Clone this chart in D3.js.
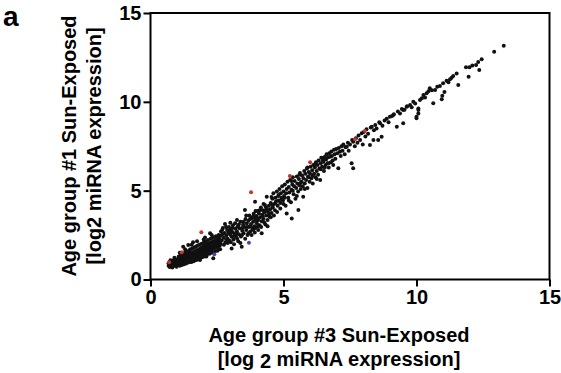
<!DOCTYPE html>
<html>
<head>
<meta charset="utf-8">
<script src="https://cdn.jsdelivr.net/npm/d3@7"></script>
<style>
  body { margin: 0; background: #fff; }
  svg { display: block; }
  text { font-family: "Liberation Sans", Arial, sans-serif; font-weight: bold; fill: #000; }
</style>
</head>
<body>
<svg id="Chart"></svg>
<script>
// tick values on both axes
const tickValues = [0, 5, 10, 15];

// [age group #3, age group #1] log2 expression
const blobPts = [
  [0.68,0.78],[0.68,0.92],[0.72,0.71],[0.72,0.85],[0.72,1.0],[0.76,0.8],[0.76,0.94],
  [0.8,0.74],[0.8,0.88],[0.8,1.05],[0.84,0.82],[0.84,0.97],[0.88,0.77],[0.88,0.91],[0.88,1.1],
  [0.92,0.86],[0.92,1.02],[0.92,0.95],[0.96,0.8],[0.96,0.93],[0.96,1.12],[1.0,0.88],[1.0,1.04],
  [1.0,0.97],[1.04,0.84],[1.04,0.99],[1.04,1.16],[1.08,0.92],[1.08,1.08],[1.08,1.0],[1.1,1.5],
  [1.12,0.89],[1.12,1.03],[1.12,1.2],[1.16,0.96],[1.16,1.13],[1.16,1.06],[1.2,0.93],[1.2,1.09],
  [1.2,1.26],[1.23,1.85],[1.24,1.01],[1.24,1.17],[1.24,1.1],[1.28,0.98],[1.28,1.14],[1.28,1.32],
  [1.32,1.06],[1.32,1.22],[1.32,1.15],[1.36,1.03],[1.36,1.19],[1.36,1.38],[1.36,1.27],
  [1.4,1.11],[1.4,1.28],[1.4,1.2],[1.42,1.94],[1.44,1.08],[1.44,1.24],[1.44,1.43],[1.44,1.33],
  [1.48,1.16],[1.48,1.33],[1.48,1.25],[1.5,1.0],[1.52,1.13],[1.52,1.3],[1.52,1.49],[1.52,1.4],
  [1.56,1.21],[1.56,1.38],[1.56,1.3],[1.6,1.18],[1.6,1.35],[1.6,1.55],[1.6,1.46],[1.6,2.1],
  [1.64,1.27],[1.64,1.44],[1.64,1.36],[1.68,1.24],[1.68,1.41],[1.68,1.6],[1.68,1.52],
  [1.72,1.33],[1.72,1.5],[1.72,1.42],[1.76,1.3],[1.76,1.47],[1.76,1.66],[1.76,1.58],
  [1.8,1.39],[1.8,1.56],[1.8,1.48],[1.84,1.36],[1.84,1.53],[1.84,1.72],[1.84,1.64],[1.86,1.1],
  [1.88,1.45],[1.88,1.62],[1.88,1.55],[1.92,1.42],[1.92,1.6],[1.92,1.79],[1.92,1.7],
  [1.96,1.51],[1.96,1.69],[1.96,1.61],[2.0,1.48],[2.0,1.66],[2.0,1.86],[2.0,1.77],
  [2.05,1.57],[2.05,1.75],[2.05,1.68],[2.05,1.95],[2.05,2.37],[2.1,1.55],[2.1,1.73],[2.1,1.9],
  [2.1,1.82],[2.1,1.3],[2.15,1.64],[2.15,1.82],[2.15,1.75],[2.15,2.02],[2.2,1.62],[2.2,1.8],
  [2.2,1.98],[2.2,1.9],[2.24,2.6],[2.25,1.71],[2.25,1.89],[2.25,2.08],[2.25,1.83],[2.3,1.69],
  [2.3,1.87],[2.3,2.05],[2.3,1.97],[2.35,1.78],[2.35,1.96],[2.35,2.16],[2.35,1.88],[2.36,1.19],
  [2.4,1.76],[2.4,1.95],[2.4,2.12],[2.4,2.04],[2.45,1.86],[2.45,2.03],[2.45,2.22],
  [2.5,1.83],[2.5,2.01],[2.5,2.2],[2.5,2.11],[2.55,1.93],[2.55,2.1],[2.55,2.3],
  [2.6,1.9],[2.6,2.08],[2.6,2.27],[2.6,2.18],
  [0.75,1.08],[0.82,0.68],[0.9,1.22],[0.98,0.72],[1.06,1.3],[1.1,0.78],[1.14,1.38],[1.18,0.82],
  [1.22,1.45],[1.26,0.86],[1.3,1.52],[1.34,0.9],[1.38,1.58],[1.42,0.95],[1.46,1.64],[1.5,1.7],
  [1.54,0.99],[1.58,1.76],[1.62,1.03],[1.66,1.82],[1.7,1.08],[1.74,1.88],[1.78,1.12],[1.82,1.94],
  [1.86,1.2],[1.9,2.0],[1.94,1.25],[1.98,2.06],[2.02,1.3],[2.06,2.14],[2.12,1.4],[2.16,2.22],
  [2.22,1.45],[2.26,2.3],[2.32,1.5],[2.36,2.38],[2.42,1.58],[2.46,2.44],[2.52,1.62],[2.56,2.5],
  [2.62,1.7],[1.3,1.7],[1.55,1.95],[1.75,2.15],[2.0,2.25],[2.3,2.5],[1.15,0.95],[1.35,1.1],
  [1.65,1.3],[1.95,1.55],[2.25,1.6],[2.55,1.75]
];

const lowerPts = [
  [2.62,2.45],[2.65,2.7],[2.68,2.2],[2.7,2.55],[2.72,2.9],[2.75,2.35],[2.78,2.62],[2.8,3.12],
  [2.82,2.1],[2.85,2.48],[2.88,2.78],[2.9,2.3],[2.92,2.62],[2.95,2.95],[2.97,2.18],[3.0,2.52],
  [3.02,2.82],[3.05,1.75],[3.05,2.4],[3.08,2.68],[3.1,3.05],[3.12,2.25],[3.15,2.58],[3.18,3.16],
  [3.2,2.85],[3.22,2.4],[3.25,2.7],[3.28,3.0],[3.3,2.15],[3.32,2.55],[3.35,2.88],[3.38,3.25],
  [3.4,2.42],[3.43,1.85],[3.45,2.75],[3.48,3.08],[3.5,2.6],[3.52,2.95],[3.55,3.91],[3.57,3.4],
  [3.6,2.78],[3.62,3.15],[3.65,2.5],[3.68,3.3],[3.7,2.95],[3.72,3.6],[3.75,2.7],[3.78,3.12],
  [3.8,3.45],[3.83,2.85],[3.86,2.79],[3.86,3.25],[3.88,3.7],[3.9,3.0],[3.93,4.38],[3.93,3.4],
  [3.95,2.9],[3.98,3.58],[4.0,3.15],[4.02,3.85],[4.05,2.79],[4.05,3.35],[4.08,3.72],[4.1,3.05],
  [4.12,3.5],[4.15,4.05],[4.18,2.6],[4.18,3.28],[4.2,3.65],[4.22,3.9],[4.25,3.4],[4.28,3.78],
  [4.3,4.2],[4.32,3.1],[4.35,3.6],[4.37,4.66],[4.38,3.95],[4.4,3.35],[4.42,3.8],[4.45,4.15],
  [4.47,3.55],[4.5,3.95],
  [2.64,2.0],[2.7,2.8],[2.76,1.95],[2.84,2.95],[2.9,2.05],[2.96,2.7],[3.02,2.1],[3.08,2.9],
  [3.14,1.98],[3.2,2.6],[3.26,2.3],[3.32,3.1],[3.38,2.05],[3.44,2.5],[3.5,3.25],[3.56,2.3],
  [3.62,2.95],[3.68,2.6],[3.74,3.4],[3.8,2.5],[3.86,3.55],[3.92,2.65],[3.98,3.3],[4.04,3.0],
  [4.1,3.9],[4.16,2.95],[4.22,3.55],[4.28,3.2],[4.34,4.05],[4.4,3.0],[4.46,3.7],[3.0,3.2],
  [3.25,3.35],[3.6,3.6],[3.95,3.85],[4.25,4.25],[2.85,2.25],[3.15,2.45],[3.45,2.9],[3.75,3.0],
  [4.0,3.45],[4.3,3.85]
];

const midPts = [
  [4.52,4.3],[4.55,3.75],[4.58,4.55],[4.6,4.05],[4.62,4.85],[4.65,4.25],[4.68,3.9],[4.7,4.6],
  [4.72,4.4],[4.75,4.95],[4.78,4.15],[4.8,4.7],[4.82,4.45],[4.85,5.1],[4.88,4.3],[4.9,4.85],
  [4.92,4.6],[4.95,5.25],[4.98,4.45],[5.0,4.95],[5.02,4.7],[5.05,5.35],[5.08,4.15],[5.1,4.85],
  [5.12,3.72],[5.12,5.1],[5.15,5.5],[5.18,4.6],[5.2,5.2],[5.22,4.9],[5.25,5.6],[5.28,4.35],
  [5.3,5.05],[5.31,3.44],[5.33,5.35],[5.35,5.75],[5.38,4.8],[5.4,5.25],[5.42,5.55],[5.45,4.55],
  [5.48,5.15],[5.5,5.8],[5.52,5.4],[5.55,4.95],[5.56,3.91],[5.58,5.65],[5.6,5.3],[5.62,6.0],
  [5.65,5.1],[5.68,5.5],[5.7,5.85],[5.72,5.25],[5.74,4.66],[5.75,5.7],[5.78,6.1],[5.8,5.4],
  [5.82,5.95],[5.85,5.6],[5.88,6.25],[5.9,5.15],[5.92,5.8],[5.95,6.05],[5.98,5.5],[6.0,5.95],
  [6.02,6.35],[6.05,5.7],[6.08,6.15],[6.1,5.4],[6.12,6.45],[6.15,5.95],[6.18,6.3],[6.2,5.75],
  [6.22,6.6],[6.25,6.1],[6.28,6.45],[6.3,5.9],[6.32,6.7],[6.35,6.25],[6.38,5.6],[6.4,6.55],
  [6.42,6.85],[6.45,6.35],[6.48,6.7],[6.5,6.63],[6.52,6.1],[6.55,6.9],[6.58,6.45],[6.6,6.75],
  [6.62,7.05],[6.65,6.55],[6.68,6.88],[6.7,6.3],[6.72,7.1],[6.75,6.91],[6.78,6.6],[6.8,7.2],
  [6.82,6.95],[6.85,6.7],[6.87,6.44],[6.9,7.3],[6.92,7.05],[6.95,6.8],[6.98,7.35],
  [4.52,3.5],[4.58,4.2],[4.64,3.6],[4.7,4.3],[4.76,3.8],[4.82,4.75],[4.88,4.0],[4.94,4.5],
  [5.0,4.25],[4.55,4.65],[5.05,4.6],[5.2,4.45],[5.35,5.0],[5.5,4.7],[5.65,5.45],[5.8,5.1],
  [5.95,5.75],[6.1,5.85],[6.25,5.65],[6.4,6.2],[6.55,6.3],[6.7,6.55],[5.3,5.55],[5.6,5.9],
  [5.9,6.3],[6.2,6.5],[6.5,6.85]
];

const upperPts = [
  [7.02,7.1],[7.06,6.26],[7.08,7.4],[7.12,7.19],[7.15,6.95],[7.18,7.5],[7.22,7.25],[7.25,7.6],
  [7.3,7.05],[7.33,7.45],[7.38,7.47],[7.42,7.7],[7.45,7.25],[7.5,7.6],[7.56,6.54],[7.58,7.85],
  [7.62,7.75],[7.62,6.26],[7.68,7.5],[7.72,7.95],[7.78,7.7],[7.82,8.1],[7.88,7.85],[7.94,8.23],
  [7.98,7.6],[8.02,8.3],[8.08,8.05],[8.12,8.45],[8.18,8.2],[8.25,7.57],[8.28,8.55],[8.32,8.6],
  [8.38,7.85],[8.4,8.4],[8.45,8.7],[8.5,8.5],[8.56,7.85],[8.6,8.85],[8.63,8.79],[8.69,8.04],
  [8.72,8.65],[8.8,8.95],[8.88,9.05],[8.95,8.85],[9.0,9.16],[9.08,9.2],[9.13,9.26],[9.15,9.3],
  [9.26,8.6],[9.3,9.45],[9.38,9.35],[9.45,9.6],[9.5,8.79],[9.5,9.54],[9.55,9.55],[9.63,9.72],
  [9.65,9.75],[9.76,9.82],[9.82,9.7],[9.88,10.0],[9.95,9.9]
];

const topPts = [
  [10.0,9.07],[10.0,9.16],[10.07,9.54],[10.07,9.35],[10.07,9.63],[10.13,10.1],[10.2,10.2],
  [10.26,10.38],[10.32,10.25],[10.38,10.48],[10.45,10.6],[10.5,10.76],[10.58,10.65],
  [10.63,9.92],[10.7,10.66],[10.78,10.85],[10.88,10.89],[10.95,10.14],[10.97,10.34],
  [11.0,11.04],[11.05,10.55],[11.13,11.19],[11.2,11.1],[11.26,11.27],[11.32,11.35],
  [11.38,11.45],[11.51,11.6],[11.57,10.95],[11.86,11.94],[11.96,11.41],[11.99,11.94],
  [12.1,12.05],[12.24,12.07],[12.32,12.24],[12.36,11.79],[12.45,12.39],[12.92,12.82],
  [13.28,13.15]
];

const redPts = [
  [0.7,0.97],[1.17,1.53],[1.91,2.66],[3.78,4.91],[5.24,5.82],[6.0,6.6],[7.69,7.9],[8.06,8.36]
];

const purplePts = [[2.4,1.42],[3.7,2.07]];

const blackPts = blobPts.concat(lowerPts, midPts, upperPts, topPts);

const svg = d3.select('#Chart')
  .attr('width', 561)
  .attr('height', 373);

const x = d3.scaleLinear().domain([0, 15]).range([150.5, 549.5]);
const y = d3.scaleLinear().domain([0, 15]).range([279.5, 13]);

// x axis
const xAxis = svg.append('g')
  .attr('transform', 'translate(0,' + y(0) + ')')
  .call(d3.axisBottom(x).tickValues(tickValues).tickSize(7).tickSizeOuter(0).tickPadding(3));
xAxis.select('.domain').remove();
xAxis.selectAll('line').attr('stroke', '#000').attr('stroke-width', 2);
xAxis.selectAll('text')
  .attr('font-family', null).attr('font-size', null)
  .style('font-size', '20px');

// y axis
const yAxis = svg.append('g')
  .attr('transform', 'translate(' + x(0) + ',0)')
  .call(d3.axisLeft(y).tickValues(tickValues).tickSize(7).tickSizeOuter(0).tickPadding(2));
yAxis.select('.domain').remove();
yAxis.selectAll('line').attr('stroke', '#000').attr('stroke-width', 2);
yAxis.selectAll('text')
  .attr('font-family', null).attr('font-size', null)
  .style('font-size', '20px');

// frame
svg.append('rect')
  .attr('x', x(0))
  .attr('y', y(15))
  .attr('width', x(15) - x(0))
  .attr('height', y(0) - y(15))
  .attr('fill', 'none')
  .attr('stroke', '#000')
  .attr('stroke-width', 2);

// points
svg.append('g').selectAll('circle')
  .data(blackPts)
  .enter().append('circle')
  .attr('cx', d => x(d[0]))
  .attr('cy', d => y(d[1]))
  .attr('r', 2)
  .style('fill', '#111');

svg.append('g').selectAll('circle')
  .data(redPts)
  .enter().append('circle')
  .attr('cx', d => x(d[0]))
  .attr('cy', d => y(d[1]))
  .attr('r', 2)
  .style('fill', '#c0392b');

svg.append('g').selectAll('circle')
  .data(purplePts)
  .enter().append('circle')
  .attr('cx', d => x(d[0]))
  .attr('cy', d => y(d[1]))
  .attr('r', 2)
  .style('fill', '#5b3fa0');

// x title
svg.append('text')
  .attr('x', 339)
  .attr('y', 342)
  .attr('text-anchor', 'middle')
  .style('font-size', '20px')
  .text('Age group #3 Sun-Exposed');

const xt2 = svg.append('text')
  .attr('x', 339)
  .attr('y', 366)
  .attr('text-anchor', 'middle')
  .style('font-size', '20px');
xt2.append('tspan').text('[log ');
xt2.append('tspan').attr('dy', 2).text('2');
xt2.append('tspan').attr('dy', -2).text(' miRNA expression]');

// y title
svg.append('text')
  .attr('transform', 'translate(76,146) rotate(-90)')
  .attr('text-anchor', 'middle')
  .style('font-size', '20px')
  .text('Age group #1 Sun-Exposed');

const yt2 = svg.append('text')
  .attr('transform', 'translate(101,146) rotate(-90)')
  .attr('text-anchor', 'middle')
  .style('font-size', '20px');
yt2.append('tspan').text('[log');
yt2.append('tspan').text('2');
yt2.append('tspan').text(' miRNA expression]');

// panel letter
svg.append('text')
  .attr('x', 3)
  .attr('y', 25.5)
  .style('font-size', '28px')
  .text('a');
</script>
</body>
</html>
